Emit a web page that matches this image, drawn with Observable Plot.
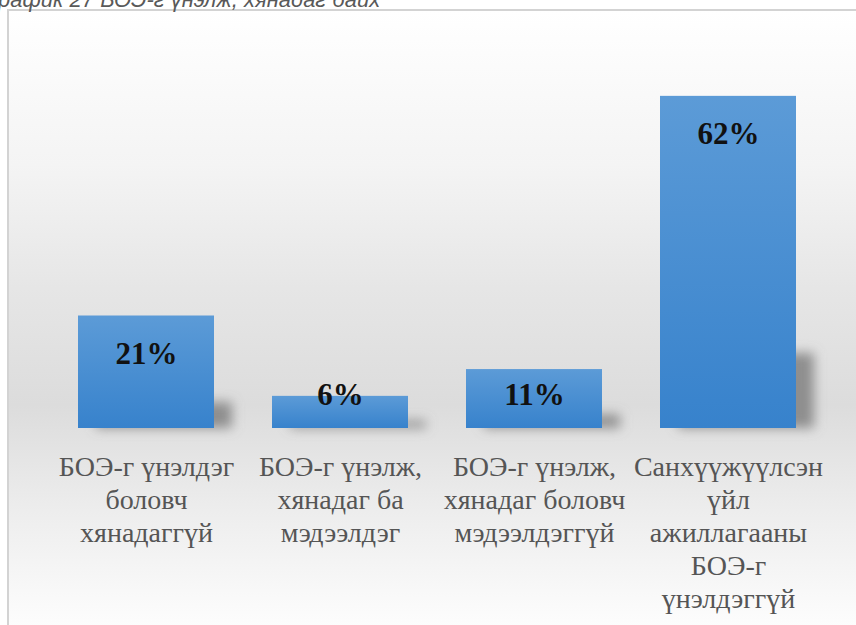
<!DOCTYPE html>
<html><head><meta charset="utf-8">
<script src="https://cdn.jsdelivr.net/npm/d3@7"></script>
<script src="https://cdn.jsdelivr.net/npm/@observablehq/plot@0.6"></script>
<style>
html,body{margin:0;padding:0;width:856px;height:625px;overflow:hidden;background:#fff}
body{position:relative}
#title{position:absolute;left:-2px;top:-11px;z-index:2;font:italic 22px "Liberation Sans",Arial,sans-serif;color:#595959;line-height:22px;white-space:nowrap}
#frame{position:absolute;left:7px;top:9px;width:849px;height:616px;border-left:2px solid #d3d3d3;border-top:2px solid #d3d3d3;
  background:linear-gradient(to bottom,#ffffff 0%,#f4f4f4 25%,#e6e6e6 45%,#dcdcdc 64%,#ececec 80%,#fdfdfd 100%)}
</style></head><body>
<div id="frame"><div id="chart"></div></div>
<div id="title">рафик 27 БОЭ-г үнэлж, хянадаг байх</div>
<script>
const categories = [
  "БОЭ-г үнэлдэг\nболовч\nхянадаггүй",
  "БОЭ-г үнэлж,\nхянадаг ба\nмэдээлдэг",
  "БОЭ-г үнэлж,\nхянадаг боловч\nмэдээлдэггүй",
  "Санхүүжүүлсэн\nүйл\nажиллагааны\nБОЭ-г\nүнэлдэггүй"
];
const values = [21, 6, 11, 62];
const valueLabels = ["21%", "6%", "11%", "62%"];

const data = categories.map((c, i) => ({category: c, value: values[i], label: valueLabels[i]}));

const W = 847, H = 614, mTop = 42, mBottom = 197;
const yMax = 70;
const k = (H - mTop - mBottom) / yMax; // px per unit
const SHADOW = "#7a7a7b";

const plot = Plot.plot({
  width: W,
  height: H,
  marginTop: mTop,
  marginBottom: mBottom,
  marginLeft: 10,
  marginRight: 2,
  style: {background: "transparent", overflow: "visible"},
  x: {axis: null, domain: categories, padding: 0.3},
  y: {axis: null, domain: [0, yMax]},
  marks: [
    Plot.barY(data, {x: "category", y1: 0, y2: d => Math.min(d.value * 0.23, 14), dx: 18, fill: SHADOW, fillOpacity: 0.8}),
    Plot.barY(data, {x: "category", y: "value", fill: "url(#barGrad)"}),
    Plot.text(data, {
      x: "category",
      y: d => d.value - Math.min(48, d.value * k - 24) / k,
      text: "label",
      lineAnchor: "bottom",
      fontSize: 31,
      fontWeight: "bold",
      fontFamily: "Liberation Serif, serif",
      fill: "#111"
    }),
    Plot.text(data, {
      x: "category",
      y: 0,
      text: "category",
      lineAnchor: "top",
      dy: 24,
      fontSize: 28,
      lineHeight: 1.18,
      fontFamily: "Liberation Serif, serif",
      fill: "#555555"
    })
  ]
});

const svg = d3.select(plot);
const defs = svg.insert("defs", ":first-child");
const g = defs.append("linearGradient").attr("id", "barGrad").attr("x1", 0).attr("y1", 0).attr("x2", 0).attr("y2", 1);
g.append("stop").attr("offset", "0%").attr("stop-color", "#5c9bd7");
g.append("stop").attr("offset", "100%").attr("stop-color", "#3782cc");
const f = defs.append("filter").attr("id", "blurShadow").attr("x", "-50%").attr("y", "-100%").attr("width", "200%").attr("height", "300%");
f.append("feGaussianBlur").attr("stdDeviation", 6);
svg.selectAll("[fill]").filter(function() { return this.getAttribute("fill") === SHADOW; }).attr("filter", "url(#blurShadow)");
svg.selectAll("text").style("font-family", "'Liberation Serif', serif");

document.getElementById("chart").appendChild(plot);
</script>
</body></html>
